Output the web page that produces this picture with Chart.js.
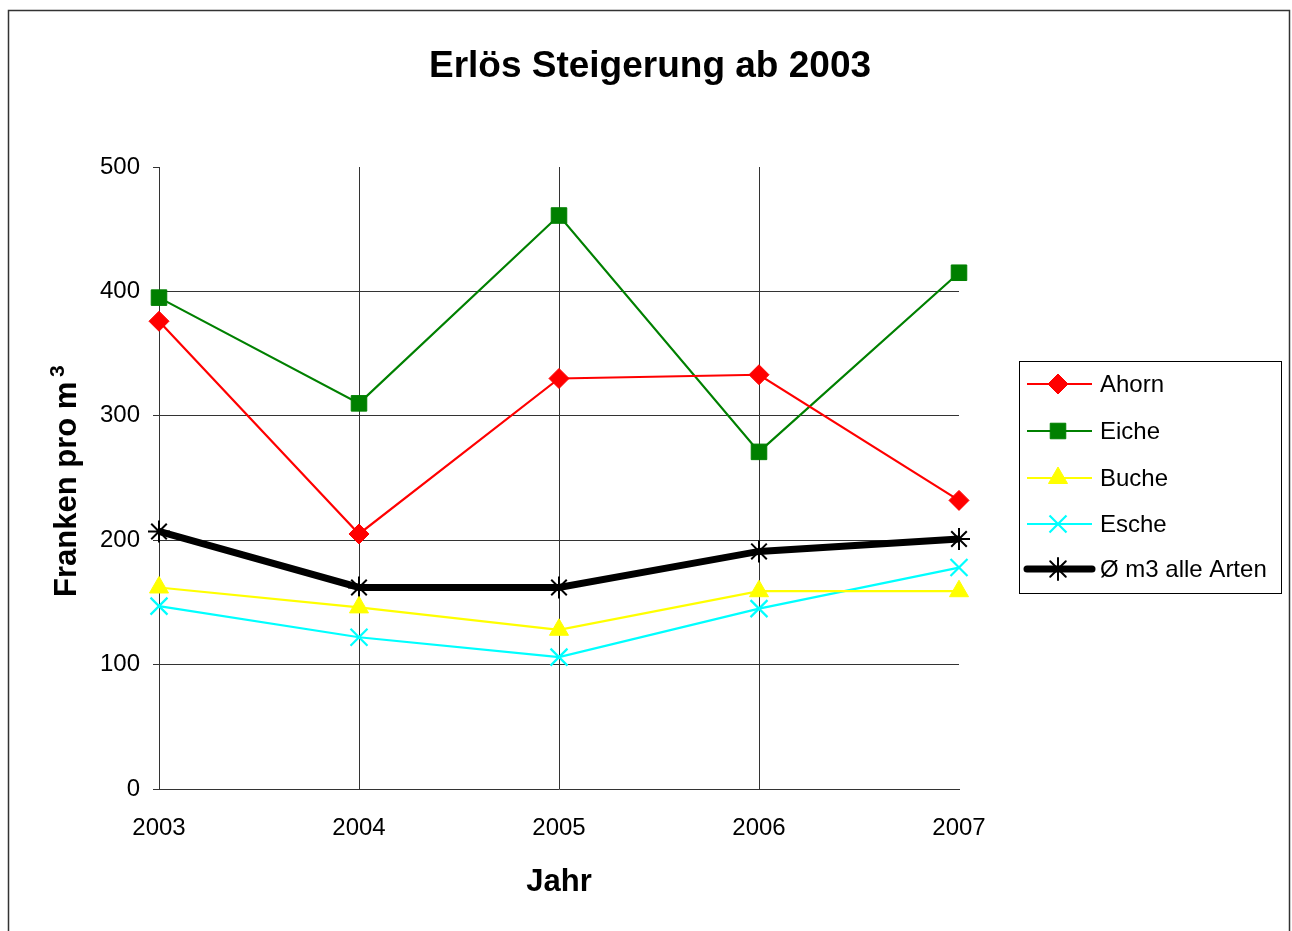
<!DOCTYPE html>
<html>
<head>
<meta charset="utf-8">
<title>Erlös Steigerung ab 2003</title>
<script src="https://cdn.jsdelivr.net/npm/chart.js@4/dist/chart.umd.min.js"></script>
<style>
  body { margin: 0; background: #fff; }
  canvas { display: block; }
</style>
</head>
<body>
<canvas id="chart" width="1292" height="931"></canvas>
<script>
// Chart data
const years = ['2003', '2004', '2005', '2006', '2007'];
const ahorn = [376, 205, 330, 333, 232];
const eiche = [395, 310, 461, 271, 415];
const buche = [162, 146, 128, 159, 159];
const esche = [147, 122, 106, 145, 178];
const mittel = [207, 162, 162, 191, 201];
const yTicks = [0, 100, 200, 300, 400, 500];

const FONT = '"Liberation Sans", Arial, sans-serif';

// Frame, title, y-axis title and legend drawn around the plot
const decorPlugin = {
    id: 'decor',
    afterDraw(chart) {
        const ctx = chart.ctx;
        ctx.save();

        // outer frame
        ctx.strokeStyle = '#333';
        ctx.lineWidth = 1.5;
        ctx.strokeRect(8.5, 10.5, 1281, 960);

        // title
        ctx.fillStyle = '#000';
        ctx.font = 'bold 37px ' + FONT;
        ctx.textAlign = 'center';
        ctx.textBaseline = 'middle';
        ctx.fillText('Erlös Steigerung ab 2003', 650, 67);

        // y-axis title with superscript 3
        ctx.save();
        ctx.translate(76, 597);
        ctx.rotate(-Math.PI / 2);
        ctx.textAlign = 'left';
        ctx.textBaseline = 'alphabetic';
        ctx.font = 'bold 31px ' + FONT;
        const main = 'Franken pro m ';
        ctx.fillText(main, 0, 0);
        const w = ctx.measureText(main).width;
        ctx.font = 'bold 21px ' + FONT;
        ctx.fillText('3', w - 4, -12);
        ctx.restore();

        // legend box
        ctx.strokeStyle = '#000';
        ctx.lineWidth = 1;
        ctx.strokeRect(1019.5, 361.5, 262, 232);

        const rows = [384, 431, 478, 524, 569];
        chart.data.datasets.forEach((ds, i) => {
            const y = rows[i];
            ctx.strokeStyle = ds.borderColor;
            ctx.lineWidth = ds.borderWidth;
            ctx.lineCap = ds.borderWidth > 3 ? 'round' : 'butt';
            ctx.beginPath();
            ctx.moveTo(1027, y);
            ctx.lineTo(1092, y);
            ctx.stroke();

            ctx.fillStyle = ds.pointBackgroundColor;
            ctx.strokeStyle = ds.pointBorderColor;
            ctx.lineWidth = ds.pointBorderWidth;
            Chart.helpers.drawPoint(ctx, {
                pointStyle: ds.pointStyle,
                radius: ds.pointRadius,
                borderWidth: ds.pointBorderWidth,
                rotation: 0
            }, 1058, y);

            ctx.fillStyle = '#000';
            ctx.font = '24px ' + FONT;
            ctx.textAlign = 'left';
            ctx.textBaseline = 'middle';
            ctx.fillText(ds.label, 1100, y + 1);
        });

        ctx.restore();
    }
};

function series(label, data, color, style, radius, width, pointBorder) {
    return {
        label: label,
        data: data,
        borderColor: color,
        backgroundColor: color,
        borderWidth: width,
        pointStyle: style,
        pointRadius: radius,
        pointHoverRadius: radius,
        pointBackgroundColor: color,
        pointBorderColor: color,
        pointBorderWidth: pointBorder,
        tension: 0,
        fill: false
    };
}

new Chart(document.getElementById('chart').getContext('2d'), {
    type: 'line',
    data: {
        labels: years,
        datasets: [
            series('Ahorn', ahorn, '#ff0000', 'rectRot', 10, 2.2, 1),
            series('Eiche', eiche, '#008000', 'rect', 11, 2.2, 1),
            series('Buche', buche, '#ffff00', 'triangle', 11, 2.2, 1),
            series('Esche', esche, '#00ffff', 'crossRot', 12, 2.2, 2.2),
            series('Ø m3 alle Arten', mittel, '#000000', 'star', 11, 7, 2)
        ]
    },
    options: {
        responsive: false,
        animation: false,
        layout: {
            padding: { left: 0, top: 167, right: 333, bottom: 0 }
        },
        plugins: {
            legend: { display: false },
            title: { display: false },
            tooltip: { enabled: false }
        },
        scales: {
            x: {
                offset: false,
                afterFit(scale) { scale.height = 931 - 789; },
                grid: {
                    drawTicks: false,
                    color: c => (c.index === years.length - 1 ? 'rgba(0,0,0,0)' : '#333'),
                    lineWidth: 1
                },
                border: { color: '#333', width: 1 },
                ticks: {
                    color: '#000',
                    padding: 25,
                    maxRotation: 0,
                    font: { family: FONT, size: 24 }
                },
                title: {
                    display: true,
                    text: 'Jahr',
                    color: '#000',
                    padding: { top: 0, bottom: 30 },
                    font: { family: FONT, size: 31, weight: 'bold' }
                }
            },
            y: {
                min: 0,
                max: 500,
                afterFit(scale) { scale.width = 159; },
                afterBuildTicks(scale) { scale.ticks = yTicks.map(v => ({ value: v })); },
                grid: {
                    drawTicks: true,
                    tickLength: 6,
                    color: c => (c.tick && (c.tick.value === 500 || c.tick.value === 0) ? 'rgba(0,0,0,0)' : '#333'),
                    tickColor: '#333',
                    lineWidth: 1
                },
                border: { color: '#333', width: 1 },
                ticks: {
                    color: '#000',
                    padding: 13,
                    font: { family: FONT, size: 24 }
                }
            }
        }
    },
    plugins: [decorPlugin]
});
</script>
</body>
</html>
